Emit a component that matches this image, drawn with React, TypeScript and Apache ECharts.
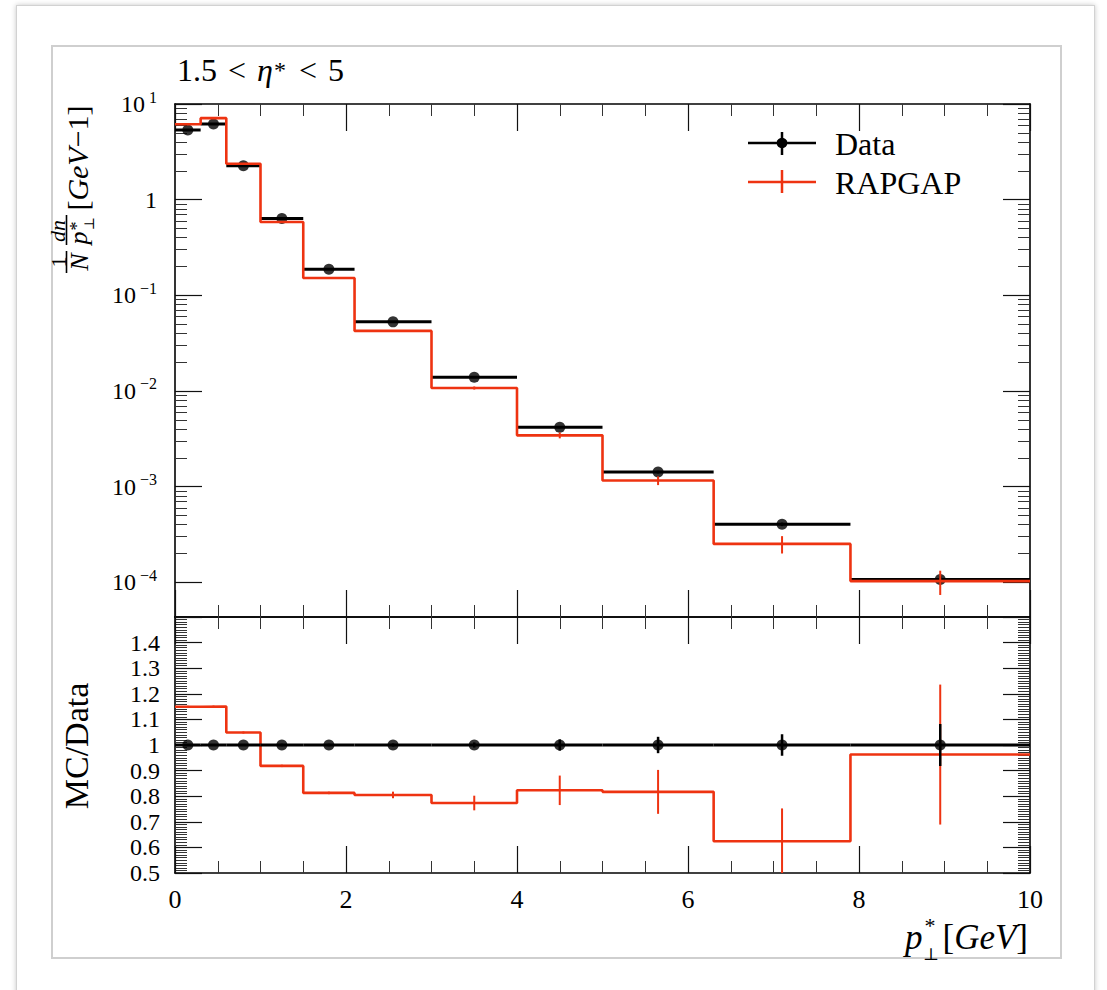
import React, { useEffect, useRef } from "react";
import * as echarts from "echarts";

// ---- data ----
const binLo = [0, 0.3, 0.6, 1.0, 1.5, 2.1, 3.0, 4.0, 5.0, 6.3, 7.9];
const binHi = [0.3, 0.6, 1.0, 1.5, 2.1, 3.0, 4.0, 5.0, 6.3, 7.9, 10];
const binCenter = [0.15, 0.45, 0.8, 1.25, 1.8, 2.55, 3.5, 4.5, 5.65, 7.1, 8.95];
const dataValues = [5.35, 6.18, 2.26, 0.637, 0.187, 0.0528, 0.0139, 0.00418, 0.00142, 0.000404, 0.000107];
const dataRelErr = [0.004, 0.004, 0.004, 0.005, 0.005, 0.006, 0.01, 0.022, 0.032, 0.042, 0.082];
const mcValues = [6.15, 7.11, 2.37, 0.585, 0.152, 0.0425, 0.01075, 0.00344, 0.00116, 0.000252, 0.000103];
const mcRelErr = [0.003, 0.003, 0.004, 0.005, 0.006, 0.016, 0.037, 0.07, 0.105, 0.206, 0.284];

const yTickValues = [1e-4, 1e-3, 1e-2, 1e-1, 1, 10];
const yTickExponents = [-4, -3, -2, -1, 0, 1];
const yMinorMultipliers = [2, 3, 4, 5, 6, 7, 8, 9];
const yMin = 4.34e-5;
const yMax = 10;

const SERIF = '"Liberation Serif", "DejaVu Serif", serif';
const RED = "#ee3311";
const BLACK = "#000";

// ---- derived series ----
const mcStep = binLo.flatMap((lo, i) => [[lo, mcValues[i]], [binHi[i], mcValues[i]]]);
const dataXbar = binLo.map((lo, i) => [lo, binHi[i], dataValues[i]]);
const dataYerr = binCenter.map((x, i) => [x, dataValues[i] * (1 - dataRelErr[i]), dataValues[i] * (1 + dataRelErr[i])]);
const mcYerr = binCenter.map((x, i) => [x, mcValues[i] * (1 - mcRelErr[i]), mcValues[i] * (1 + mcRelErr[i])]);
const dataPts = binCenter.map((x, i) => [x, dataValues[i]]);

const mcRatio = mcValues.map((m, i) => m / dataValues[i]);
const dataRatio = dataValues.map((d) => d / d);
const ratioStep = binLo.flatMap((lo, i) => [[lo, mcRatio[i]], [binHi[i], mcRatio[i]]]);
const ratioDataXbar = binLo.map((lo, i) => [lo, binHi[i], dataRatio[i]]);
const ratioDataYerr = binCenter.map((x, i) => [x, dataRatio[i] * (1 - dataRelErr[i]), dataRatio[i] * (1 + dataRelErr[i])]);
const ratioMcYerr = binCenter.map((x, i) => [x, mcRatio[i] * (1 - mcRelErr[i]), mcRatio[i] * (1 + mcRelErr[i])]);
const ratioPts = binCenter.map((x, i) => [x, dataRatio[i]]);

const yMinorValues = yTickValues.flatMap((d) => yMinorMultipliers.map((m) => d * m)).filter((v) => v > yMin && v < yMax);

const hbar = (color: string, w: number) => (params: any, api: any) => {
  const a = api.coord([api.value(0), api.value(2)]);
  const b = api.coord([api.value(1), api.value(2)]);
  return { type: "line", shape: { x1: a[0], y1: a[1], x2: b[0], y2: b[1] }, style: { stroke: color, lineWidth: w } };
};
const vbar = (color: string, w: number) => (params: any, api: any) => {
  const a = api.coord([api.value(0), api.value(1)]);
  const b = api.coord([api.value(0), api.value(2)]);
  return { type: "line", shape: { x1: a[0], y1: a[1], x2: b[0], y2: b[1] }, style: { stroke: color, lineWidth: w } };
};

const tickStyle = { color: "#111", width: 1.2 };
const minorStyle = { color: "#333", width: 1 };
const axisLineStyle = { color: "#000", width: 1.6 };

function xAx(gridIndex: number, position: string, showLabel: boolean) {
  return {
    type: "value",
    gridIndex,
    position,
    min: 0,
    max: 10,
    interval: 2,
    axisLine: { show: true, onZero: false, lineStyle: axisLineStyle },
    axisTick: { show: true, inside: true, length: 27, lineStyle: tickStyle },
    minorTick: { show: true, splitNumber: 4, length: 12, lineStyle: minorStyle },
    splitLine: { show: false },
    minorSplitLine: { show: false },
    axisLabel: { show: showLabel, margin: 13, fontFamily: SERIF, fontSize: 26, color: "#000" },
  };
}

function logAx(position: string, major: boolean) {
  return {
    type: "log",
    gridIndex: 0,
    position,
    logBase: 10,
    min: yMin,
    max: yMax,
    axisLine: { show: major, onZero: false, lineStyle: axisLineStyle },
    axisTick: {
      show: true,
      inside: true,
      length: major ? 27 : 12,
      customValues: major ? yTickValues : yMinorValues,
      lineStyle: major ? tickStyle : minorStyle,
    },
    minorTick: { show: false },
    splitLine: { show: false },
    axisLabel: {
      show: major && position === "left",
      customValues: yTickValues,
      margin: 18,
      color: "#000",
      formatter: (v: number) => {
        const idx = yTickValues.findIndex((t) => Math.abs(Math.log10(t) - Math.log10(v)) < 1e-6);
        const e = idx >= 0 ? yTickExponents[idx] : Math.round(Math.log10(v));
        if (e === 0) return "{b|1}";
        return "{b|10}{s|" + (e < 0 ? "\u2212" + -e : String(e)) + "}";
      },
      rich: {
        b: { fontFamily: SERIF, fontSize: 24, lineHeight: 30, color: "#000" },
        s: { fontFamily: SERIF, fontSize: 16, lineHeight: 14, verticalAlign: "top", color: "#000", padding: [0, 0, 0, 4] },
      },
    },
  };
}

function ratioAx(position: string) {
  return {
    type: "value",
    gridIndex: 1,
    position,
    min: 0.5,
    max: 1.5,
    interval: 0.1,
    axisLine: { show: true, onZero: false, lineStyle: axisLineStyle },
    axisTick: { show: true, inside: true, length: 27, lineStyle: tickStyle },
    minorTick: { show: true, splitNumber: 10, length: 12, lineStyle: minorStyle },
    splitLine: { show: false },
    minorSplitLine: { show: false },
    axisLabel: {
      show: position === "left",
      showMaxLabel: false,
      margin: 15,
      fontFamily: SERIF,
      fontSize: 24,
      lineHeight: 22,
      color: "#000",
      formatter: (v: number) => String(Number(v.toFixed(1))),
    },
  };
}

export default function App() {
  const ref = useRef<HTMLDivElement>(null);
  useEffect(() => {
    const chart = echarts.init(ref.current!, null, { renderer: "svg" });
    const rot = Math.PI / 2;
    const option: any = {
      animation: false,
      grid: [
        { left: 175, top: 104, width: 855, height: 513 },
        { left: 175, top: 617, width: 855, height: 256 },
      ],
      xAxis: [xAx(0, "bottom", false), xAx(0, "top", false), xAx(1, "bottom", true), xAx(1, "top", false)],
      yAxis: [logAx("left", true), logAx("left", false), logAx("right", true), logAx("right", false), ratioAx("left"), ratioAx("right")],
      series: [
        // top panel
        { type: "custom", xAxisIndex: 0, yAxisIndex: 0, renderItem: hbar(BLACK, 3), data: dataXbar, encode: { x: [0, 1], y: 2 }, z: 2, clip: true },
        { type: "custom", xAxisIndex: 0, yAxisIndex: 0, renderItem: vbar(BLACK, 2.5), data: dataYerr, encode: { x: 0, y: [1, 2] }, z: 2, clip: true },
        { type: "scatter", xAxisIndex: 0, yAxisIndex: 0, data: dataPts, symbol: "circle", symbolSize: 11, itemStyle: { color: BLACK }, z: 3 },
        { type: "line", xAxisIndex: 0, yAxisIndex: 0, data: mcStep, showSymbol: false, symbol: "none", lineStyle: { color: RED, width: 2.6 }, z: 4 },
        { type: "custom", xAxisIndex: 0, yAxisIndex: 0, renderItem: vbar(RED, 2), data: mcYerr, encode: { x: 0, y: [1, 2] }, z: 4, clip: true },
        // ratio panel
        { type: "line", xAxisIndex: 2, yAxisIndex: 4, data: ratioStep, showSymbol: false, symbol: "none", lineStyle: { color: RED, width: 2.6 }, z: 2 },
        { type: "custom", xAxisIndex: 2, yAxisIndex: 4, renderItem: vbar(RED, 2), data: ratioMcYerr, encode: { x: 0, y: [1, 2] }, z: 2, clip: true },
        { type: "custom", xAxisIndex: 2, yAxisIndex: 4, renderItem: hbar(BLACK, 3), data: ratioDataXbar, encode: { x: [0, 1], y: 2 }, z: 3, clip: true },
        { type: "custom", xAxisIndex: 2, yAxisIndex: 4, renderItem: vbar(BLACK, 2.5), data: ratioDataYerr, encode: { x: 0, y: [1, 2] }, z: 3, clip: true },
        { type: "scatter", xAxisIndex: 2, yAxisIndex: 4, data: ratioPts, symbol: "circle", symbolSize: 11, itemStyle: { color: BLACK }, z: 4 },
      ],
      graphic: [
        // title
        {
          type: "text",
          x: 177,
          y: 70,
          style: {
            text: "{b|1.5}{op|<}{i|\u03b7}{s|*}{op|<}{b|5}",
            align: "left",
            verticalAlign: "middle",
            rich: {
              b: { fontFamily: SERIF, fontSize: 32, lineHeight: 36, fill: "#000" },
              op: { fontFamily: SERIF, fontSize: 32, lineHeight: 36, fill: "#000", padding: [0, 11, 0, 11] },
              i: { fontFamily: SERIF, fontSize: 32, fontStyle: "italic", lineHeight: 36, fill: "#000" },
              s: { fontFamily: SERIF, fontSize: 24, lineHeight: 36, fill: "#000", padding: [0, 2, 0, 1] },
            },
          },
        },
        // legend
        { type: "line", shape: { x1: 748, y1: 143, x2: 816, y2: 143 }, style: { stroke: BLACK, lineWidth: 2.5 } },
        { type: "line", shape: { x1: 782, y1: 132, x2: 782, y2: 155 }, style: { stroke: BLACK, lineWidth: 2.5 } },
        { type: "circle", shape: { cx: 782, cy: 143, r: 5.3 }, style: { fill: BLACK } },
        { type: "text", x: 835, y: 144, style: { text: "Data", fontFamily: SERIF, fontSize: 32, fill: "#000", align: "left", verticalAlign: "middle" } },
        { type: "line", shape: { x1: 748, y1: 182, x2: 816, y2: 182 }, style: { stroke: RED, lineWidth: 2.5 } },
        { type: "line", shape: { x1: 782, y1: 170, x2: 782, y2: 193 }, style: { stroke: RED, lineWidth: 2.5 } },
        { type: "text", x: 835, y: 183, style: { text: "RAPGAP", fontFamily: SERIF, fontSize: 32, fill: "#000", align: "left", verticalAlign: "middle" } },
        // y title (top panel), rotated
        {
          type: "text",
          x: 77,
          y: 158,
          rotation: rot,
          style: {
            text: "{r|[}{i|GeV}{r|\u22121]}",
            align: "center",
            verticalAlign: "middle",
            rich: {
              r: { fontFamily: SERIF, fontSize: 30, fill: "#000" },
              i: { fontFamily: SERIF, fontSize: 30, fontStyle: "italic", fill: "#000" },
            },
          },
        },
        { type: "text", x: 58, y: 262, rotation: rot, style: { text: "1", fontFamily: SERIF, fontSize: 22, fill: "#000", align: "center", verticalAlign: "middle" } },
        { type: "line", shape: { x1: 66.5, y1: 251, x2: 66.5, y2: 273 }, style: { stroke: "#000", lineWidth: 1.6 } },
        { type: "text", x: 79, y: 262, rotation: rot, style: { text: "N", fontFamily: SERIF, fontStyle: "italic", fontSize: 26, fill: "#000", align: "center", verticalAlign: "middle" } },
        { type: "text", x: 57, y: 231, rotation: rot, style: { text: "dn", fontFamily: SERIF, fontStyle: "italic", fontSize: 22, fill: "#000", align: "center", verticalAlign: "middle" } },
        { type: "line", shape: { x1: 66.5, y1: 215, x2: 66.5, y2: 245 }, style: { stroke: "#000", lineWidth: 1.6 } },
        { type: "text", x: 78, y: 238, rotation: rot, style: { text: "p", fontFamily: SERIF, fontStyle: "italic", fontSize: 26, fill: "#000", align: "center", verticalAlign: "middle" } },
        { type: "text", x: 77, y: 226, rotation: rot, style: { text: "*", fontFamily: SERIF, fontSize: 18, fill: "#000", align: "center", verticalAlign: "middle" } },
        { type: "text", x: 89, y: 224, rotation: rot, style: { text: "\u22a5", fontFamily: SERIF, fontSize: 14, fill: "#000", align: "center", verticalAlign: "middle" } },
        // y title (ratio panel)
        { type: "text", x: 76, y: 746, rotation: rot, style: { text: "MC/Data", fontFamily: SERIF, fontSize: 34, fill: "#000", align: "center", verticalAlign: "middle" } },
        // x title
        { type: "text", x: 905, y: 937, style: { text: "p", fontFamily: SERIF, fontStyle: "italic", fontSize: 35, fill: "#000", align: "left", verticalAlign: "middle" } },
        { type: "text", x: 930, y: 925, style: { text: "*", fontFamily: SERIF, fontSize: 22, fill: "#000", align: "center", verticalAlign: "middle" } },
        { type: "text", x: 931, y: 954, style: { text: "\u22a5", fontFamily: SERIF, fontSize: 17, fill: "#000", align: "center", verticalAlign: "middle" } },
        {
          type: "text",
          x: 1028,
          y: 937,
          style: {
            text: "{r|[}{i|GeV}{r|]}",
            align: "right",
            verticalAlign: "middle",
            rich: {
              r: { fontFamily: SERIF, fontSize: 35, fill: "#000" },
              i: { fontFamily: SERIF, fontSize: 35, fontStyle: "italic", fill: "#000" },
            },
          },
        },
      ],
    };
    chart.setOption(option);
    return () => chart.dispose();
  }, []);

  return (
    <div style={{ position: "absolute", left: 0, top: 0, width: 1107, height: 990, overflow: "hidden", background: "#fff" }}>
      <div
        style={{
          position: "absolute",
          left: 16,
          top: 5,
          width: 1077,
          height: 1100,
          border: "1.5px solid #d2d2d2",
          boxShadow: "0 0 5px rgba(0,0,0,0.22)",
          background: "#fff",
        }}
      />
      <div style={{ position: "absolute", left: 51, top: 45, width: 1007, height: 910, border: "2px solid #cfcfcf" }} />
      <div ref={ref} style={{ position: "absolute", left: 0, top: 0, width: 1107, height: 990 }} />
    </div>
  );
}
